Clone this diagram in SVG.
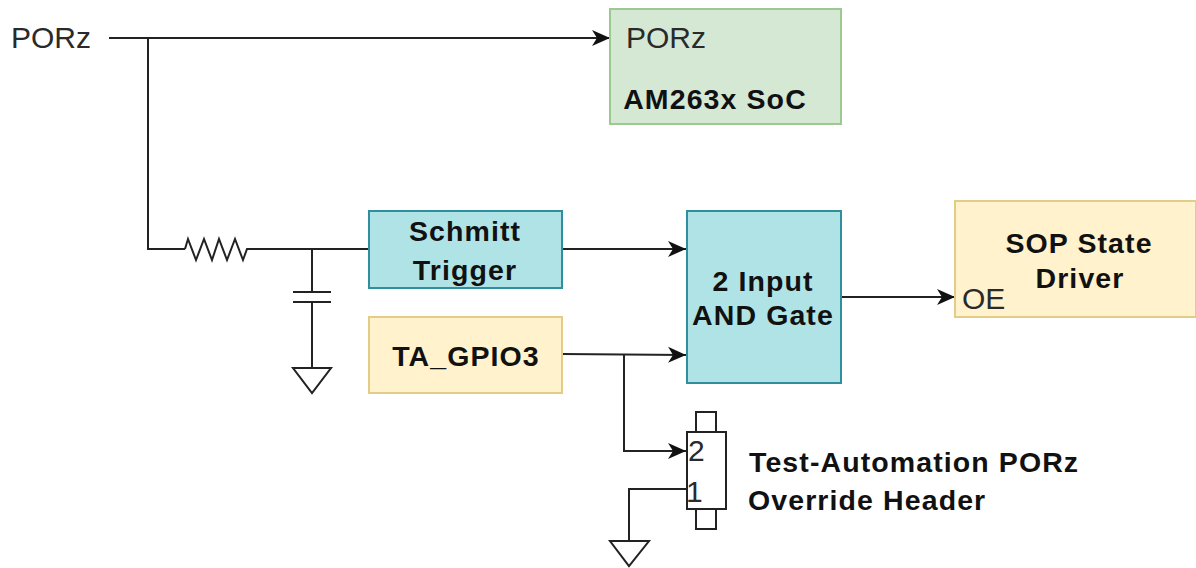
<svg xmlns="http://www.w3.org/2000/svg" width="1196" height="568" viewBox="0 0 1196 568">
<style>
.t{font-family:"Liberation Sans",Arial,sans-serif;font-size:30px;fill:#2a2a2a}
.b{font-size:28.5px;font-weight:bold;text-anchor:middle;letter-spacing:1.1px;fill:#111}
.l{text-anchor:start}
.w{fill:none;stroke:#222;stroke-width:2}
.o{fill:#fff;stroke:#222;stroke-width:2}
.yel{fill:#fff2cc;stroke:#e3cd86;stroke-width:2}
.teal{fill:#b0e3e6;stroke:#2f8f9d;stroke-width:2}
.grn{fill:#d5e8d4;stroke:#9cc98f;stroke-width:2}
</style>
<defs>
<marker id="a" markerUnits="userSpaceOnUse" markerWidth="19" markerHeight="18" refX="18" refY="9" orient="auto"><path d="M0 1L18 9L0 17L5 9Z" fill="#111"/></marker>
</defs>
<g id="connectors">
<path class="w" d="M109 38H610" marker-end="url(#a)"/>
<path class="w" d="M148 38V249H185"/>
<path class="w" d="M185 249L188 239L196 260L204 239L212 260L219 239L227 260L235 239L243 260L247 249H369"/>
<path class="w" d="M312 249V292M312 302V368"/>
<path class="w" d="M293 292H331M293 302H331"/>
<path class="w" d="M562 249H686" marker-end="url(#a)"/>
<path class="w" d="M562 354L686 355" marker-end="url(#a)"/>
<path class="w" d="M624 354V451H686" marker-end="url(#a)"/>
<path class="w" d="M686 489H629V541"/>
<path class="w" d="M841 297H955" marker-end="url(#a)"/>
</g>
<g id="ground1"><path class="o" d="M293 368H331L312 393Z"/></g>
<g id="ground2"><path class="o" d="M610 541H649L629 566Z"/></g>
<g id="porz-input"><text class="t" x="11" y="48">PORz</text></g>
<g id="soc">
<rect class="grn" x="610" y="9" width="231" height="115"/>
<text class="t" x="626" y="48">PORz</text>
<text class="t b" x="715" y="109">AM263x SoC</text>
</g>
<g id="schmitt">
<rect class="teal" x="369" y="211" width="193" height="77"/>
<text class="t b" x="465" y="241">Schmitt</text>
<text class="t b" x="465" y="280">Trigger</text>
</g>
<g id="gpio">
<rect class="yel" x="369" y="317" width="193" height="76"/>
<text class="t b" x="466" y="366">TA_GPIO3</text>
</g>
<g id="and-gate">
<rect class="teal" x="687" y="211" width="154" height="172"/>
<text class="t b" x="763" y="291">2 Input</text>
<text class="t b" x="763" y="325">AND Gate</text>
</g>
<g id="sop">
<rect class="yel" x="955" y="201" width="241" height="116"/>
<text class="t b" x="1079" y="253">SOP State</text>
<text class="t b" x="1080" y="288">Driver</text>
<text class="t" x="962" y="309">OE</text>
</g>
<g id="header">
<rect class="o" x="696" y="412" width="20" height="20"/>
<rect class="o" x="696" y="509" width="20" height="20"/>
<rect class="o" x="687" y="432" width="39" height="77"/>
<text class="t" x="688" y="461">2</text>
<text class="t" x="686" y="502">1</text>
</g>
<g id="header-label">
<text class="t b l" x="749" y="472">Test-Automation PORz</text>
<text class="t b l" x="748" y="510">Override Header</text>
</g>
</svg>
